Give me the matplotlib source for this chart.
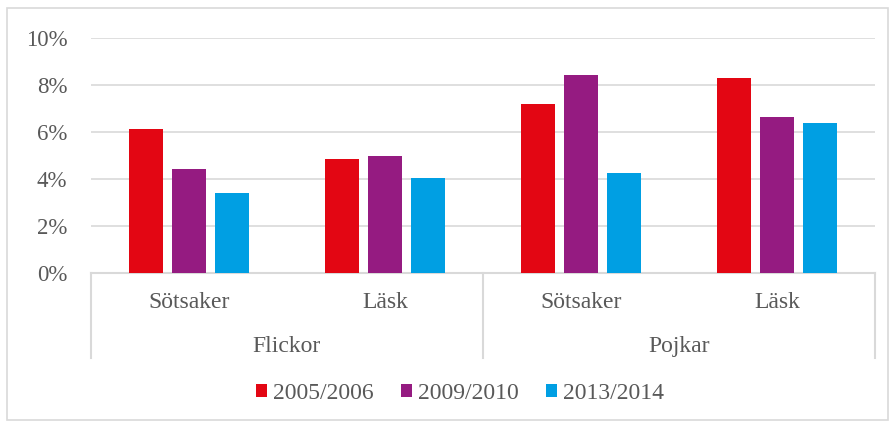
import numpy as np
import matplotlib.pyplot as plt
from matplotlib.patches import Rectangle

# Data
groups = ['Flickor', 'Pojkar']
categories = ['Sötsaker', 'Läsk', 'Sötsaker', 'Läsk']
series = ['2005/2006', '2009/2010', '2013/2014']
v_2005 = [0.0614, 0.0486, 0.0720, 0.0830]
v_2009 = [0.0444, 0.0499, 0.0843, 0.0666]
v_2013 = [0.0340, 0.0405, 0.0428, 0.0640]
colors = ['#E30613', '#951B81', '#009FE3']

plt.rcParams['font.family'] = ['Liberation Serif', 'DejaVu Serif']
txt = '#595959'
grid_c = '#d9d9d9'

fig = plt.figure(figsize=(8.9, 4.25), dpi=100)
ax = fig.add_axes([0.1022, 0.3576, 0.8809, 0.5523])

x = np.arange(len(categories))
width = 0.175
step = 0.22
for i, (vals, name) in enumerate(zip([v_2005, v_2009, v_2013], series)):
    ax.bar(x + (i - 1) * step, vals, width, color=colors[i], label=name, zorder=3)

ax.set_xlim(-0.5, len(categories) - 0.5)
ax.set_ylim(0, 0.10)
ax.set_yticks(np.arange(0, 0.101, 0.02))
ax.set_yticklabels([f'{int(round(t * 100))}%' for t in ax.get_yticks()])
ax.tick_params(axis='y', length=0, pad=17, labelsize=16.5, labelcolor=txt)
ax.set_xticks([])
ax.grid(axis='y', color=grid_c, lw=1.2, zorder=0)
for s in ['top', 'right', 'left']:
    ax.spines[s].set_visible(False)
ax.spines['bottom'].set_color(grid_c)
ax.spines['bottom'].set_linewidth(1.5)

# category and group labels
trans = ax.get_xaxis_transform()
for xi, c in zip(x, categories):
    ax.text(xi, -0.125, c, transform=trans, ha='center', va='center',
            fontsize=17, color=txt)
for gi, g in enumerate(groups):
    ax.text(gi * 2 + 0.5, -0.315, g, transform=trans, ha='center', va='center',
            fontsize=17, color=txt)
for xd in [-0.5, 1.5, 3.5]:
    ax.plot([xd, xd], [0, -0.36], transform=trans, color=grid_c, lw=1.5,
            clip_on=False)

leg = fig.legend(loc='center', bbox_to_anchor=(0.517, 0.075), ncol=3,
                 frameon=False, fontsize=17, handlelength=0.47, handleheight=0.47,
                 handletextpad=0.25, columnspacing=1.15, labelcolor=txt)

# outer chart border
fig.patches.append(Rectangle((0.008, 0.012), 0.99, 0.97, transform=fig.transFigure,
                             fill=False, edgecolor=grid_c, lw=1.2))

fig.savefig('out.png', dpi=100)
